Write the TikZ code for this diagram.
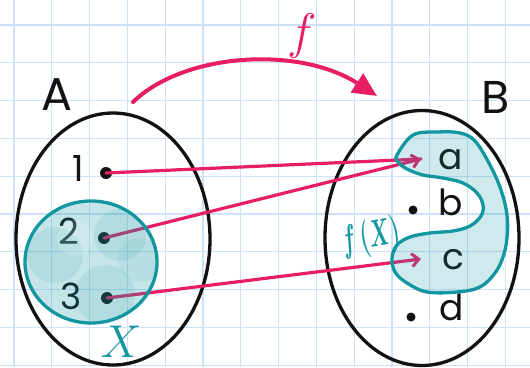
\RequirePackage{fix-cm}
\documentclass[tikz,border=0pt]{standalone}
\usepackage{fontspec}
\setmainfont{Poppins}
\usetikzlibrary{arrows.meta,shapes.geometric}
\definecolor{gridblue}{RGB}{205,225,250}
\definecolor{mag}{RGB}{232,30,100}
\definecolor{tealc}{RGB}{18,150,160}
\definecolor{ink}{RGB}{18,18,18}
\begin{document}
\begin{tikzpicture}[x=1pt,y=-1pt,
  gridline/.style={draw=gridblue,line width=1.3pt},
  setell/.style={ellipse,draw=ink,line width=3.3pt,inner sep=0pt},
  dotnode/.style={circle,fill=ink,inner sep=0pt,minimum size=#1},
  mline/.style={draw=mag,line width=3.2pt,line cap=round},
  tipline/.style={mline,-{Straight Barb[length=7pt,width=13pt,line width=3pt]}},
  bigarrow/.style={draw=mag,line width=4pt,line cap=round,-{Triangle[length=24pt,width=22pt]}},
  lbl/.style={text=ink,inner sep=0pt,font=\fontsize{36}{36}\selectfont},
  biglbl/.style={text=ink,inner sep=0pt,font=\fontsize{46}{46}\selectfont},
]
\useasboundingbox (0,0) rectangle (530,367);
\fill[white] (0,0) rectangle (530,367);
\begin{scope}
\clip (0,0) rectangle (530,367);
\foreach \i in {0,...,13} \draw[gridline] ({14+37.8*\i},0) -- ({14+37.8*\i},367);
\foreach \j in {0,...,9} \draw[gridline] (0,{25+37.8*\j}) -- (530,{25+37.8*\j});
\end{scope}

% sets
\node[setell,minimum width=194pt,minimum height=252pt] (setA) at (113,239) {};
\node[setell,minimum width=194pt,minimum height=255pt] (setB) at (422,238) {};

% set labels
\node[biglbl] (labA) at (57,95) {A};
\node[biglbl] (labB) at (496,97) {B};

% elements of A
\node[dotnode=12pt] (p1) at (106,173) {};
\node[dotnode=12pt] (p2) at (104,238) {};
\node[dotnode=12pt] (p3) at (107,298) {};
\node[lbl] (l1) at (78,168) {1};
\node[lbl] (l2) at (69,231) {2};
\node[lbl] (l3) at (71,296) {3};

% elements of B
\node[dotnode=9pt] (pb) at (413,210) {};
\node[dotnode=9pt] (pd) at (411,317) {};
\coordinate (ta) at (421,159);
\coordinate (tc) at (421,259);
\node[lbl] (la) at (451,160) {a};
\node[lbl] (lb) at (451,202) {b};
\node[lbl] (lc) at (453,260) {c};
\node[lbl] (ld) at (452,307) {d};

% mapping lines
\draw[mline] (p1.center) -- (ta);
\draw[tipline] (p2.center) -- (ta);
\draw[tipline] (p3.center) -- (tc);

% big arrow f
\coordinate (fs) at (133,102);
\coordinate (fe) at (377,96);
\draw[bigarrow] (fs) .. controls (185,52) and (300,46) .. (fe);
\node[text=mag,inner sep=0pt,font=\fontsize{50}{50}\selectfont] (lf) at (302,36) {$f$};

% subset X
\fill[tealc,opacity=0.24] (91,262) ellipse [x radius=66pt,y radius=61pt];
\begin{scope}
\clip (91,262) ellipse [x radius=66pt,y radius=61pt];
\fill[tealc,opacity=0.10] (55,255) circle (28pt);
\fill[tealc,opacity=0.10] (120,235) circle (26pt);
\fill[tealc,opacity=0.10] (105,295) circle (30pt);
\fill[white,opacity=0.15] (75,238) circle (18pt);
\fill[tealc,opacity=0.08] (140,260) circle (22pt);
\end{scope}
\node[ellipse,draw=tealc,line width=3.3pt,minimum width=132pt,minimum height=122pt,inner sep=0pt] (setX) at (91,262) {};
\node[text=tealc,inner sep=0pt,font=\fontsize{46}{46}\selectfont] (lX) at (121,342) {$X$};

% image f(X)
\def\blobpath{plot[smooth cycle,tension=0.6] coordinates {
 (397,155) (413,135) (437,132) (460,133) (475,141) (490,165) (501,190) (507,215)
 (507,238) (503,257) (495,273) (480,287) (457,292) (427,292) (407,283) (395,272)
 (392,258) (397,245) (410,237) (430,233) (453,231) (470,226) (481,216) (483,205)
 (477,193) (463,183) (443,178) (423,175) (407,169) (398,162)}}
\fill[tealc,opacity=0.2] \blobpath;
\draw[tealc,line width=3.3pt] \blobpath;
\node[text=tealc,inner sep=0pt,rotate=10,xscale=0.55,font=\fontsize{38}{38}\selectfont\boldmath] (lfX) at (371,238) {$f\,(X)$};
\end{tikzpicture}
\end{document}
